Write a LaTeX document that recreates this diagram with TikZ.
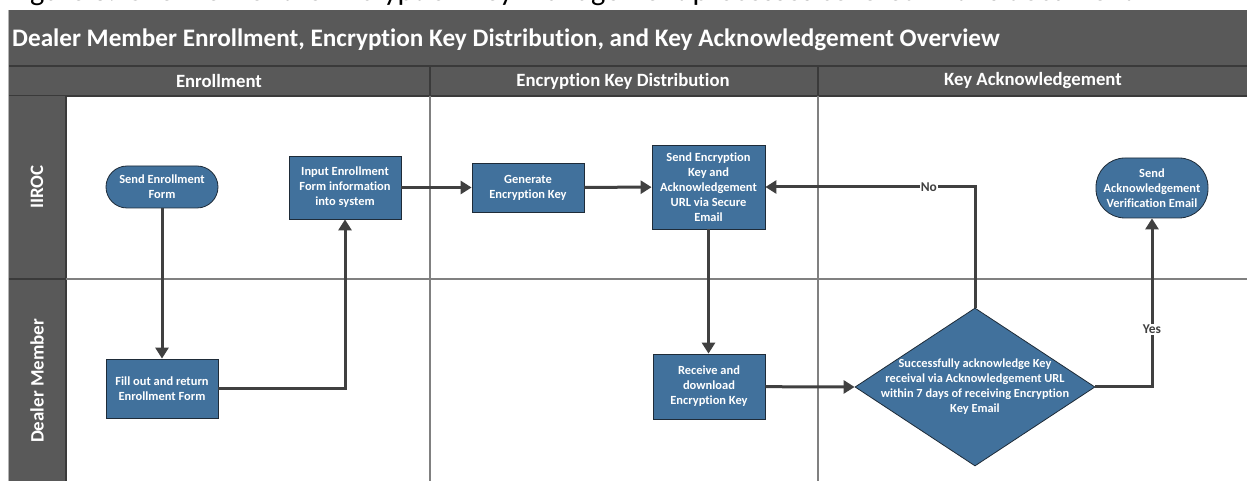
\documentclass[tikz,border=0pt]{standalone}
\usepackage{fontspec}
\setmainfont{Carlito}[Ligatures=NoCommon]
\usetikzlibrary{arrows.meta,shapes.geometric,positioning}
\definecolor{bannergray}{HTML}{595959}
\definecolor{darkline}{HTML}{3A3A3A}
\definecolor{gridgray}{HTML}{808080}
\definecolor{nodeblue}{RGB}{65,113,156}
\definecolor{nodeborder}{HTML}{1E2B38}
\definecolor{flowgray}{HTML}{404040}
\newcommand{\nodefnt}{\bfseries\fontsize{12.5}{15}\selectfont}
\tikzset{
  procbox/.style={draw=nodeborder, line width=0.8bp, fill=nodeblue, text=white, font=\nodefnt, align=center, inner sep=0pt, minimum width=112bp},
  termbox/.style={procbox, rounded corners=#1},
  flow/.style={draw=flowgray, line width=3bp, -{Triangle[length=11bp,width=13bp]}},
  flowlabel/.style={fill=white, text=flowgray, font=\bfseries\fontsize{13.5}{15}\selectfont, inner sep=1pt},
  lanetext/.style={text=white, font=\bfseries\fontsize{19}{20}\selectfont, rotate=90},
  headtext/.style={text=white, font=\bfseries\fontsize{18.8}{20}\selectfont},
}
\begin{document}
\begin{tikzpicture}[x=1bp,y=-1bp]
\useasboundingbox (0,0) rectangle (1247,481);
\clip (0,0) rectangle (1247,481);
% caption (cut off at top)
\node[anchor=base west, inner sep=0pt, font=\fontsize{30.5}{32}\selectfont] (caption) at (9,0.6) {Figure 8: Overview of the Encryption Key Management processes covered in this document};
% banner and header rows
\fill[bannergray] (8,10) rectangle (1247,96);
\node[anchor=west, text=white, font=\bfseries\fontsize{25.3}{28}\selectfont, inner sep=0pt] (title) at (12,39.5) {Dealer Member Enrollment, Encryption Key Distribution, and Key Acknowledgement Overview};
\draw[darkline, line width=1.5bp] (8,66) -- (1247,66);
\draw[darkline, line width=1.5bp] (8,96) -- (1247,96);
\draw[darkline, line width=1.5bp] (430,66) -- (430,96);
\draw[darkline, line width=1.5bp] (818,66) -- (818,96);
\node[headtext] (h1) at (219,81) {Enrollment};
\node[headtext] (h2) at (623,81) {Encryption Key Distribution};
\node[headtext] (h3) at (1033,81) {Key Acknowledgement};
% lane label column
\fill[bannergray] (8,96) rectangle (66,481);
\draw[darkline, line width=1.5bp] (66,96) -- (66,481);
\node[lanetext] (l1) at (37,187) {IIROC};
\node[lanetext] (l2) at (37,381) {Dealer Member};
% grid lines
\draw[gridgray, line width=1.5bp] (66,279) -- (1247,279);
\draw[darkline, line width=1.5bp] (8,279) -- (66,279);
\draw[gridgray, line width=1.2bp] (430,96) -- (430,481);
\draw[gridgray, line width=1.2bp] (818,96) -- (818,481);
\draw[gridgray!60, line width=1bp] (8,10) -- (8,481);
% nodes
\node[termbox=21bp, minimum height=42bp] (sef) at (162,187) {Send Enrollment\\Form};
\node[procbox, minimum height=63bp] (input) at (345,187.5) {Input Enrollment\\Form information\\into system};
\node[procbox, minimum height=49bp] (gen) at (528,187.5) {Generate\\Encryption Key};
\node[procbox, minimum height=84bp, minimum width=113bp] (sek) at (708.5,187) {Send Encryption\\Key and\\Acknowledgement\\URL via Secure\\Email};
\node[termbox=29bp, minimum height=60bp] (sav) at (1152,188) {Send\\Acknowledgement\\Verification Email};
\node[procbox, minimum height=59bp] (fill) at (162,388.5) {Fill out and return\\Enrollment Form};
\node[procbox, minimum height=65bp] (recv) at (709,386.5) {Receive and\\download\\Encryption Key};
\node[diamond, draw=nodeborder, line width=0.8bp, fill=nodeblue, inner sep=0pt, minimum width=240bp, minimum height=158bp] (dia) at (975,387) {};
\node[text=white, align=center, font=\bfseries\fontsize{12.4}{15}\selectfont] (diatext) at (dia.center) {Successfully acknowledge Key\\receival via Acknowledgement URL\\within 7 days of receiving Encryption\\Key Email};
% connectors
\draw[flow] (sef) -- (fill);
\draw[flow] (fill.east) -| (input.south);
\draw[flow] (input) -- (gen);
\draw[flow] (gen) -- (sek);
\draw[flow] (sek.south) -- (sek.south |- recv.north);
\draw[flow] (recv) -- (dia.west);
\draw[flow] (dia.north) |- node[flowlabel, pos=0.61] {No} (sek.east);
\draw[flow] (dia.east) -| node[flowlabel, pos=0.67] {Yes} (sav.south);
\end{tikzpicture}
\end{document}
